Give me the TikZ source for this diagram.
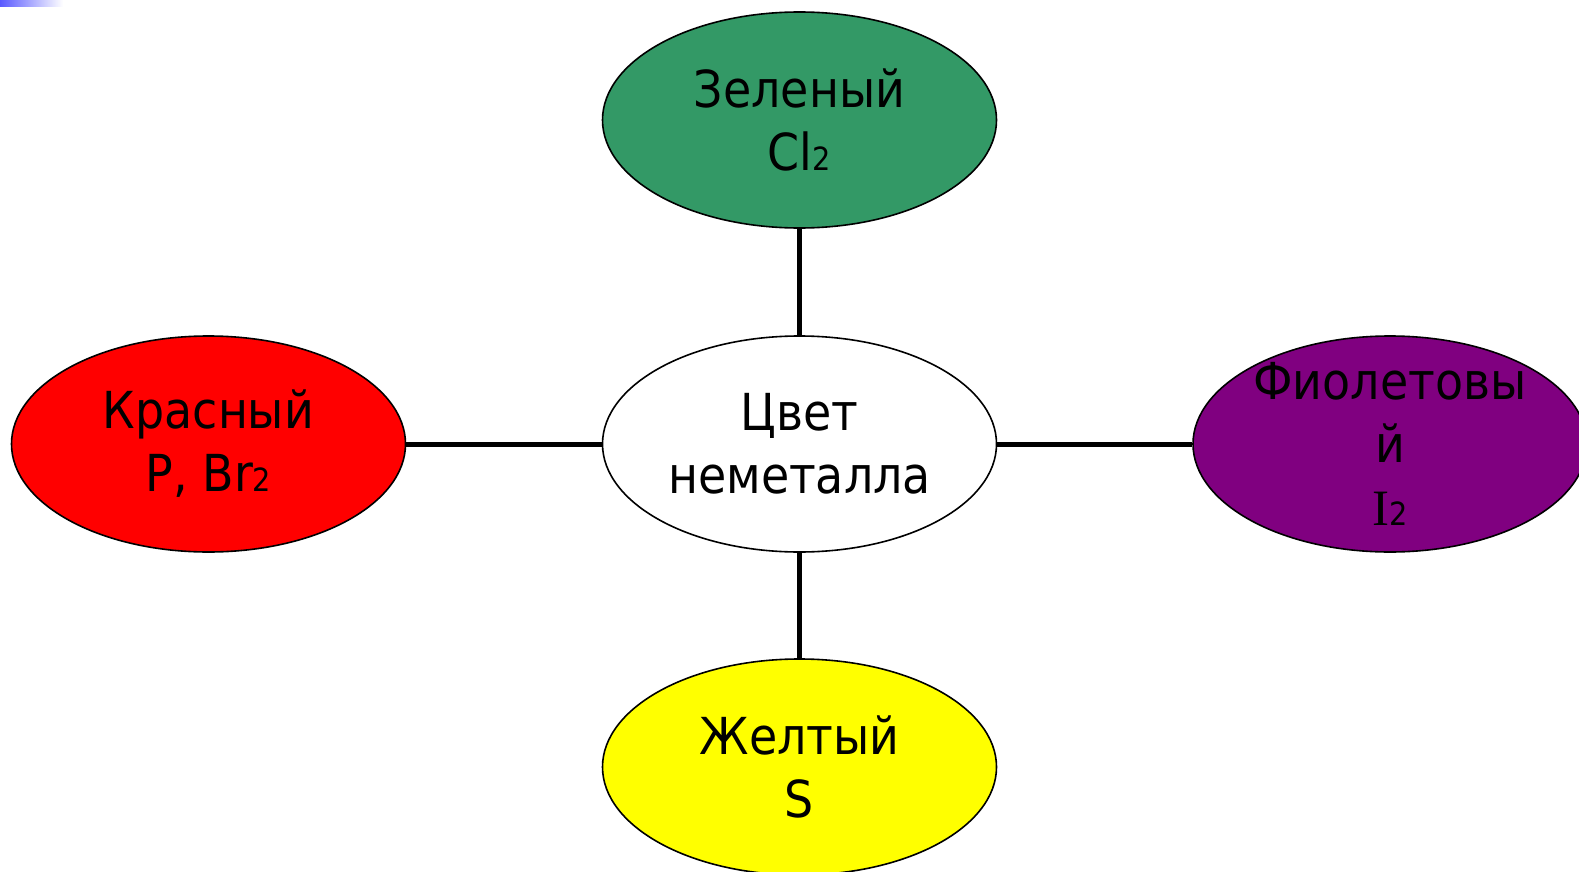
\documentclass[tikz,border=0pt]{standalone}
\usepackage{fontspec}
\setmainfont{DejaVu Sans Condensed}
\newfontfamily\seriffont{Liberation Serif}
\usetikzlibrary{shapes.geometric}
\definecolor{leafgreen}{RGB}{51,153,102}
\definecolor{plum}{RGB}{128,0,128}
\definecolor{brightred}{RGB}{255,0,0}
\definecolor{lemon}{RGB}{255,255,0}
\newcommand{\ix}[1]{{\fontsize{16}{16}\selectfont #1}}

\tikzset{
    color node/.style={ellipse, draw=black, line width=0.8pt,
        minimum width=197pt, minimum height=108pt, inner sep=0pt},
    caption/.style={align=center, inner sep=0pt, font=\fontsize{25.5}{31.5}\selectfont},
    link/.style={line width=2.5pt}
}

\begin{document}
\begin{tikzpicture}[x=0.5pt, y=-0.5pt]
    \useasboundingbox (0, 0) rectangle (1579, 872);
    \shade[left color=blue!65!white, right color=white] (0, 0) rectangle (63, 7);
    \node[color node, fill=white, label={[caption]center:Цвет\\неметалла}] (center) at (799.5, 444) {};
    \node[color node, fill=leafgreen, label={[caption]center:Зеленый\\Cl\ix{2}}] (green) at (799.5, 120) {};
    \node[color node, fill=brightred, label={[caption]center:Красный\\P, Br\ix{2}}] (red) at (208.5, 444) {};
    \node[color node, fill=plum, label={[caption]center:Фиолетовы\\й\\{\seriffont I}\ix{2}}] (violet) at (1390, 444) {};
    \node[color node, fill=lemon, label={[caption]center:Желтый\\S}] (yellow) at (799.5, 767) {};
    \draw[link]
    (center) edge (green)
    (center) edge (red)
    (center) edge (violet)
    (center) edge (yellow);
\end{tikzpicture}
\end{document}
